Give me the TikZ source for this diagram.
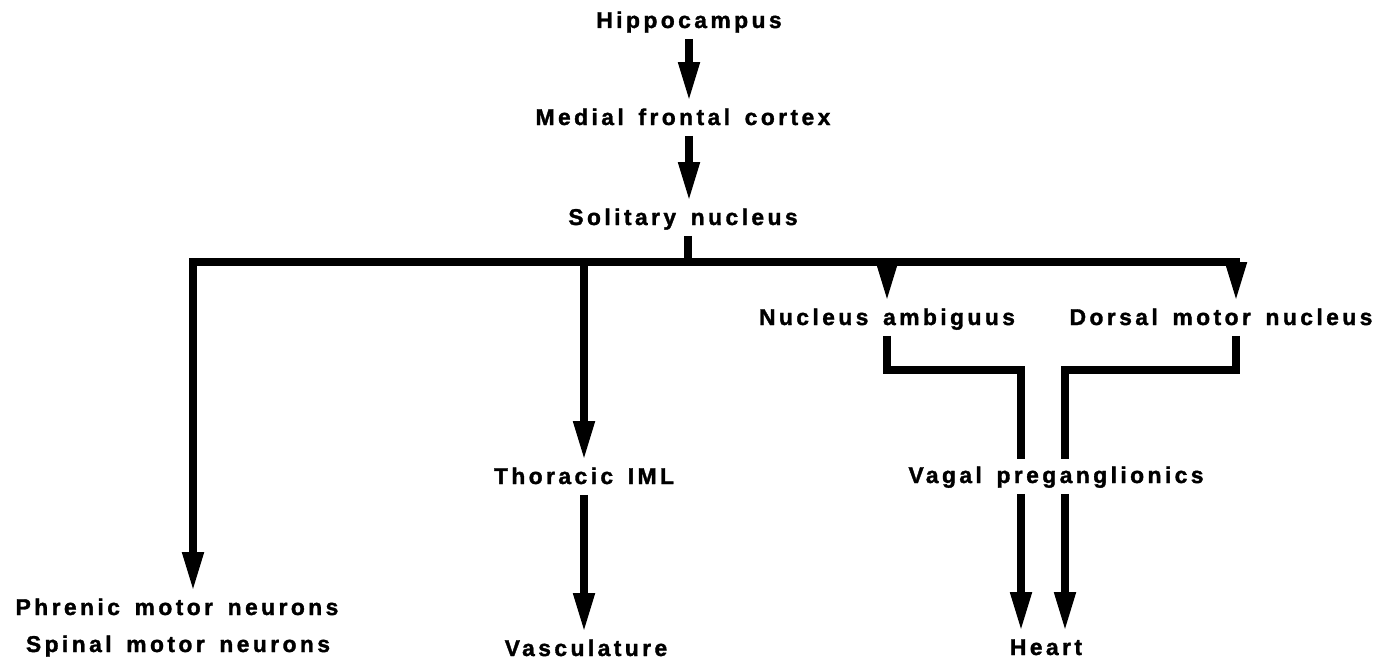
\documentclass[tikz,border=0pt]{standalone}
\usepackage{fontspec}
\setmainfont{Liberation Sans}
\newfontfamily\tractfont{Liberation Sans Bold}[LetterSpace=15, WordSpace=1.5, FakeBold=1.5]
\usetikzlibrary{arrows.meta}

\begin{document}
\begin{tikzpicture}[
    x=0.02cm, y=-0.02cm,
    region/.style={
        inner xsep=0pt,
        inner ysep=0.14cm,
        text height=9.4pt,
        text depth=2pt,
        anchor=base,
        font=\tractfont\fontsize{13}{15}\selectfont
    },
    tract_line/.style={
        line width=0.15cm,
        draw=black
    },
    flow_arrow/.style={
        tract_line,
        -{Triangle[length=0.78cm, width=0.4cm]}
    },
    both_arrow/.style={
        tract_line,
        {Triangle[length=0.78cm, width=0.4cm]}-{Triangle[length=0.78cm, width=0.4cm]}
    }
]
\useasboundingbox (0,0) rectangle (1390,666);

% Central chain
\node[region] (hippo) at (689,28) {Hippocampus};
\node[region] (medial) at (683,125) {Medial frontal cortex};
\node[region] (solitary) at (683,225) {Solitary nucleus};

% Medullary targets
\node[region] (nucleus) at (887,325) {Nucleus ambiguus};
\node[region] (dorsal) at (1221,325) {Dorsal motor nucleus};

% Intermediate level
\node[region] (thoracic) at (584,484) {Thoracic IML};
\node[region] (vagal) at (1056,483) {Vagal preganglionics};

% Final effectors
\node[region] (phrenic) at (177,615) {Phrenic motor neurons};
\node[region] (spinal) at (178,652) {Spinal motor neurons};
\node[region] (vasc) at (586,656) {Vasculature};
\node[region] (heart) at (1046,655) {Heart};

% Bus and elbow points
\coordinate (bus) at (688,262);
\coordinate (busL) at (193,262);
\coordinate (busR) at (1236,262);
\coordinate (elbowB) at (1021,370);
\coordinate (elbowC) at (1065,370);

% Descending chain
\draw[flow_arrow] (hippo.south) -- (hippo.south |- medial.north);
\draw[flow_arrow] (medial.south -| hippo.south) -- (solitary.north -| hippo.south);
\draw[tract_line] (solitary.south -| bus) -- (bus);

% Distribution bus
\draw[both_arrow] (busL |- phrenic.north) -- (busL) -- (busR) -- (busR |- dorsal.north);
\draw[flow_arrow] (thoracic.north |- bus) -- (thoracic.north);
\draw[flow_arrow] (nucleus.north |- bus) -- (nucleus.north);

% Vagal convergence
\draw[tract_line] (nucleus.south) |- (elbowB) -- (elbowB |- vagal.north);
\draw[tract_line] (dorsal.south -| busR) |- (elbowC) -- (elbowC |- vagal.north);

% Outputs
\draw[flow_arrow] (thoracic.south) -- (thoracic.south |- vasc.north);
\draw[flow_arrow] (vagal.south -| elbowB) -- (elbowB |- heart.north);
\draw[flow_arrow] (vagal.south -| elbowC) -- (elbowC |- heart.north);

\end{tikzpicture}
\end{document}
